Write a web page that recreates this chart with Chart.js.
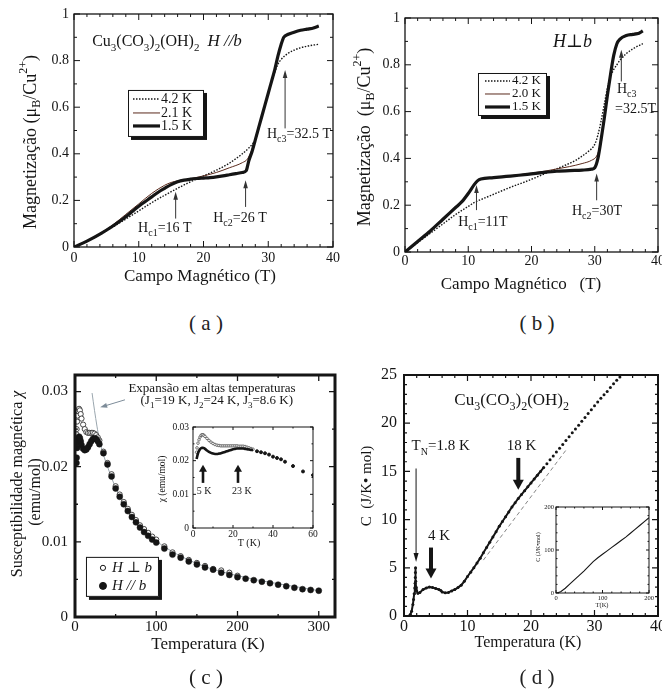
<!DOCTYPE html>
<html>
<head>
<meta charset="utf-8">
<script src="https://cdn.jsdelivr.net/npm/chart.js@4.4.1/dist/chart.umd.min.js"></script>
<style>
  body { margin: 0; background: #fff; width: 662px; height: 693px; position: relative; overflow: hidden; }
  canvas { position: absolute; }
  .lbl { position: absolute; transform: translate(-50%, -50%); font: 21px "Liberation Serif", serif; color: #222; white-space: pre; }
</style>
</head>
<body>
<canvas id="ca" width="340" height="300" style="left:0;top:0"></canvas>
<canvas id="cb" width="322" height="300" style="left:340px;top:0"></canvas>
<canvas id="cc" width="340" height="330" style="left:0;top:340px"></canvas>
<canvas id="cci" width="170" height="135" style="left:150px;top:418px"></canvas>
<canvas id="cd" width="322" height="330" style="left:340px;top:340px"></canvas>
<canvas id="cdi" width="130" height="113" style="left:530px;top:500px"></canvas>
<div class="lbl" style="left:206px;top:323px">( a )</div>
<div class="lbl" style="left:537px;top:323px">( b )</div>
<div class="lbl" style="left:206px;top:677px">( c )</div>
<div class="lbl" style="left:537px;top:677px">( d )</div>
<script>
// ---- (a) magnetização, H // b ----
const aH15 = [0, 2, 4, 6, 8, 10, 12, 13, 14, 15, 16, 17, 18, 19, 20, 21, 22, 23, 24, 25, 26, 26.6, 27, 27.5, 28, 28.5, 29, 29.5, 30, 30.5, 31, 31.5, 32, 32.4, 33, 34, 35, 36, 37, 37.8];
const aM15 = [0, 0.025, 0.055, 0.09, 0.13, 0.175, 0.215, 0.235, 0.252, 0.268, 0.28, 0.287, 0.291, 0.294, 0.296, 0.298, 0.301, 0.305, 0.31, 0.315, 0.32, 0.328, 0.37, 0.41, 0.46, 0.51, 0.56, 0.61, 0.66, 0.71, 0.76, 0.82, 0.87, 0.9, 0.912, 0.922, 0.93, 0.935, 0.94, 0.948];
const aH21 = [0, 2, 4, 6, 8, 10, 12, 14, 15, 16, 18, 20, 22, 24, 26, 26.8, 27.5, 28, 28.5, 29, 29.5, 30, 30.5, 31, 31.5, 32, 32.4, 33, 35, 37.8];
const aM21 = [0, 0.025, 0.057, 0.095, 0.14, 0.185, 0.23, 0.265, 0.277, 0.284, 0.293, 0.305, 0.32, 0.34, 0.362, 0.378, 0.42, 0.46, 0.51, 0.56, 0.61, 0.66, 0.71, 0.765, 0.825, 0.875, 0.9, 0.912, 0.93, 0.948];
const aH42 = [0, 2, 4, 6, 8, 10, 12, 14, 16, 18, 20, 22, 24, 26, 27, 27.5, 28, 29, 30, 31, 31.5, 32, 33, 34, 35, 36, 37.8];
const aM42 = [0, 0.024, 0.053, 0.086, 0.12, 0.155, 0.19, 0.222, 0.252, 0.28, 0.305, 0.33, 0.36, 0.4, 0.425, 0.44, 0.46, 0.56, 0.66, 0.75, 0.785, 0.805, 0.83, 0.845, 0.855, 0.862, 0.87];

// ---- (b) magnetização, H perpendicular b ----
const bH15 = [0, 2, 4, 6, 8, 9, 10, 11, 11.5, 12, 14, 16, 18, 20, 22, 24, 26, 28, 29.5, 30, 30.5, 31, 31.5, 32, 32.5, 33, 33.5, 34, 35, 36, 37, 37.6];
const bM15 = [0, 0.045, 0.09, 0.14, 0.19, 0.215, 0.25, 0.29, 0.305, 0.312, 0.318, 0.323, 0.328, 0.334, 0.34, 0.345, 0.348, 0.35, 0.354, 0.36, 0.4, 0.48, 0.57, 0.67, 0.76, 0.84, 0.89, 0.91, 0.925, 0.93, 0.935, 0.945];
const bH20 = [0, 2, 4, 6, 8, 10, 11, 12, 14, 16, 18, 20, 22, 24, 26, 28, 29.5, 30.3, 30.7, 31, 31.5, 32, 32.5, 33, 33.5, 34, 35, 37.6];
const bM20 = [0, 0.045, 0.09, 0.14, 0.19, 0.25, 0.292, 0.31, 0.318, 0.324, 0.33, 0.337, 0.345, 0.355, 0.365, 0.378, 0.392, 0.41, 0.44, 0.48, 0.57, 0.67, 0.76, 0.84, 0.89, 0.91, 0.925, 0.942];
const bH42 = [0, 2, 4, 6, 8, 10, 11, 13, 15, 17, 19, 21, 23, 25, 27, 28, 29, 30, 30.5, 31, 31.5, 32, 32.5, 33, 33.5, 34, 35, 36, 37.6];
const bM42 = [0, 0.04, 0.08, 0.12, 0.16, 0.195, 0.212, 0.235, 0.258, 0.28, 0.3, 0.322, 0.345, 0.367, 0.392, 0.41, 0.43, 0.46, 0.5, 0.56, 0.63, 0.7, 0.75, 0.78, 0.8, 0.82, 0.848, 0.868, 0.89];

// ---- (c) susceptibilidade ----
const cTo = [1.8, 2, 2.5, 3, 4, 5, 6, 7, 8, 10, 12, 14, 16, 18, 20, 22, 24, 26, 28, 30, 35, 40, 45, 50, 55, 60, 65, 70, 75, 80, 85, 90, 95, 100, 110, 120, 130, 140, 150, 160, 170, 180, 190, 200];
const cOpen = [0.0243, 0.025, 0.026, 0.0268, 0.0274, 0.0277, 0.0275, 0.027, 0.0264, 0.0256, 0.025, 0.0246, 0.0245, 0.0245, 0.0245, 0.0245, 0.0244, 0.0242, 0.0239, 0.0235, 0.022, 0.0205, 0.019, 0.0174, 0.0163, 0.0153, 0.0144, 0.0136, 0.0129, 0.0122, 0.0117, 0.0112, 0.0107, 0.0103, 0.0094, 0.0086, 0.0081, 0.0076, 0.0072, 0.0068, 0.0064, 0.0062, 0.0059, 0.0055];
const cTf = [1.8, 2, 2.5, 3, 4, 5, 6, 7, 8, 10, 12, 14, 16, 18, 20, 22, 24, 26, 28, 30, 35, 40, 45, 50, 55, 60, 65, 70, 75, 80, 85, 90, 95, 100, 110, 120, 130, 140, 150, 160, 170, 180, 190, 200, 210, 220, 230, 240, 250, 260, 270, 280, 290, 300];
const cFill = [0.0205, 0.0212, 0.0225, 0.0232, 0.0238, 0.024, 0.0238, 0.0234, 0.0229, 0.0224, 0.0222, 0.0223, 0.0226, 0.023, 0.0234, 0.0237, 0.0238, 0.0237, 0.0234, 0.023, 0.0218, 0.0203, 0.0187, 0.0171, 0.016, 0.015, 0.0141, 0.0133, 0.0126, 0.0119, 0.0113, 0.0108, 0.0103, 0.0099, 0.0091, 0.0083, 0.0079, 0.0074, 0.007, 0.0066, 0.0063, 0.0059, 0.0056, 0.0053, 0.0051, 0.0049, 0.0047, 0.0045, 0.0043, 0.0041, 0.0039, 0.0037, 0.0036, 0.0035];
const cFitT = [21, 24, 27, 30, 35, 40, 50, 60, 80, 100, 150, 200, 300];
const cFit = [0.0298, 0.0275, 0.0254, 0.0236, 0.0216, 0.02, 0.0172, 0.0152, 0.0121, 0.0101, 0.0071, 0.0055, 0.0035];
// inset (c)
const ciT = [1.8, 2, 2.5, 3, 3.5, 4, 4.5, 5, 5.5, 6, 7, 8, 9, 10, 11, 12, 13, 14, 15, 16, 17, 18, 19, 20, 21, 22, 23, 24, 25, 26, 27, 28, 29, 30];
const ciOpen = [0.0225, 0.0238, 0.0252, 0.0262, 0.027, 0.0275, 0.0277, 0.0277, 0.0275, 0.0272, 0.0266, 0.026, 0.0255, 0.0251, 0.0248, 0.0246, 0.0245, 0.0244, 0.0244, 0.0244, 0.0244, 0.0244, 0.0244, 0.0244, 0.0244, 0.0244, 0.0243, 0.0243, 0.0243, 0.0242, 0.024, 0.0238, 0.0236, 0.0234];
const ciFill = [0.0205, 0.021, 0.0222, 0.0229, 0.0234, 0.0237, 0.0238, 0.0238, 0.0237, 0.0235, 0.023, 0.0226, 0.0223, 0.0221, 0.022, 0.022, 0.0221, 0.0222, 0.0224, 0.0226, 0.0228, 0.023, 0.0232, 0.0234, 0.0235, 0.0236, 0.0236, 0.0236, 0.0236, 0.0235, 0.0234, 0.0233, 0.0232, 0.0231];
const ciTailT = [32, 34, 36, 38, 40, 42, 44, 46, 50, 55, 60];
const ciTail = [0.0228, 0.0225, 0.0222, 0.0218, 0.0212, 0.0208, 0.0204, 0.0197, 0.0184, 0.0168, 0.0157];

// ---- (d) calor específico ----
const dT = [0.8, 1.0, 1.2, 1.4, 1.5, 1.6, 1.7, 1.75, 1.78, 1.8, 1.82, 1.85, 1.9, 2.0, 2.2, 2.5, 3, 3.5, 4, 4.5, 5, 5.5, 5.8, 6, 6.5, 7, 7.5, 8, 8.5, 9, 9.5, 10, 10.5, 11, 11.5, 12, 12.5, 13, 13.5, 14, 14.5, 15, 15.5, 16, 16.5, 17, 17.5, 18, 18.5, 19, 19.5, 20, 20.5, 21, 21.5, 22, 22.5, 23, 23.5, 24, 24.5, 25, 25.5, 26, 26.5, 27, 27.5, 28, 28.5, 29, 29.5, 30, 30.5, 31, 31.5, 32, 32.5, 33, 33.5, 34, 34.5];
const dC = [0, 0.15, 0.5, 1.2, 1.7, 2.3, 2.9, 3.4, 4.0, 4.5, 5.0, 3.6, 3.0, 2.6, 2.35, 2.45, 2.75, 2.9, 3.0, 2.95, 2.85, 2.75, 2.65, 2.5, 2.4, 2.45, 2.6, 2.75, 2.95, 3.2, 3.6, 4.1, 4.55, 5.0, 5.5, 6.0, 6.55, 7.1, 7.65, 8.2, 8.75, 9.3, 9.8, 10.3, 10.8, 11.3, 11.75, 12.2, 12.6, 13.0, 13.4, 13.8, 14.2, 14.6, 15.0, 15.4, 15.8, 16.2, 16.6, 17.0, 17.4, 17.8, 18.2, 18.6, 19.0, 19.4, 19.8, 20.2, 20.6, 21.0, 21.4, 21.8, 22.2, 22.6, 22.95, 23.3, 23.7, 24.1, 24.45, 24.8, 25.2];
const dFitT = [12.5, 25.5];
const dFit = [5.8, 17.2];
// inset (d)
const diT = [0, 5, 10, 20, 30, 40, 50, 60, 70, 80, 90, 100, 110, 120, 130, 140, 150, 160, 170, 180, 190, 200];
const diC = [0, 1, 3, 11, 21, 31, 41, 51, 62, 73, 82, 90, 98, 106, 114, 122, 130, 139, 148, 157, 166, 175];

const INK = '#151515';
const FAM = '"Liberation Serif", "DejaVu Serif", serif';
Chart.defaults.font.family = FAM;
Chart.defaults.color = INK;

// estilos das curvas (também usados nas legendas)
const S42 = { borderWidth: 1.4, borderDash: [1.5, 1.5], borderColor: INK };
const S21 = { borderWidth: 1, borderColor: '#5a2a1c' };
const S15 = { borderWidth: 3.2, borderColor: INK };

const pts = (xs, ys) => xs.map((v, i) => ({ x: v, y: ys[i] }));

function curve(xs, ys, style) {
    return Object.assign({ data: pts(xs, ys), showLine: true, pointRadius: 0, fill: false, cubicInterpolationMode: 'monotone' }, style);
}

function axis(min, max, step, size, pad, thick) {
    return {
        type: 'linear', min, max,
        grid: { display: false, drawTicks: false },
        border: { display: false },
        ticks: {
            stepSize: step, includeBounds: false, font: { size }, padding: pad, color: INK,
            maxRotation: 0, autoSkip: false,
            callback: v => String(+v.toFixed(4))
        },
        afterFit(s) {
            if (s.isHorizontal()) s.height = thick; else s.width = thick;
            s.paddingLeft = s.paddingRight = s.paddingTop = s.paddingBottom = 0;
        }
    };
}

// texto com subscrito (_), sobrescrito (^) e itálico (~)
function rich(ctx, s, px, py, o) {
    const size = o.size, parts = [];
    let i = 0, buf = '';
    const flush = () => { if (buf) parts.push({ t: buf, m: '' }); buf = ''; };
    while (i < s.length) {
        const c = s[i];
        if (c === '_' || c === '^' || c === '~') {
            flush();
            let t;
            if (s[i + 1] === '{') { const j = s.indexOf('}', i); t = s.slice(i + 2, j); i = j + 1; }
            else { t = s[i + 1]; i += 2; }
            parts.push({ t, m: c });
        } else { buf += c; i++; }
    }
    flush();
    const font = p => ((o.italic || p.m === '~') ? 'italic ' : '') + ((p.m === '_' || p.m === '^') ? Math.round(size * 0.68) : size) + 'px ' + FAM;
    let w = 0;
    parts.forEach(p => { ctx.font = font(p); p.w = ctx.measureText(p.t).width; w += p.w; });
    ctx.save();
    ctx.translate(px, py);
    if (o.rot) ctx.rotate(o.rot);
    ctx.fillStyle = o.color || INK;
    ctx.textAlign = 'left';
    ctx.textBaseline = o.base || 'alphabetic';
    let cx = o.align === 'center' ? -w / 2 : o.align === 'right' ? -w : 0;
    parts.forEach(p => {
        ctx.font = font(p);
        const dy = p.m === '_' ? size * 0.3 : p.m === '^' ? -size * 0.42 : 0;
        ctx.fillText(p.t, cx, dy);
        cx += p.w;
    });
    ctx.restore();
}

function arrow(ctx, x1, y1, x2, y2, o) {
    const ang = Math.atan2(y2 - y1, x2 - x1), hl = o.hl || 8, hw = o.hw || 2.5;
    ctx.save();
    ctx.strokeStyle = ctx.fillStyle = o.color || INK;
    ctx.lineWidth = o.w || 1;
    ctx.beginPath();
    ctx.moveTo(x1, y1);
    ctx.lineTo(x2 - Math.cos(ang) * hl * 0.8, y2 - Math.sin(ang) * hl * 0.8);
    ctx.stroke();
    ctx.translate(x2, y2);
    ctx.rotate(ang);
    ctx.beginPath();
    ctx.moveTo(0, 0); ctx.lineTo(-hl, -hw); ctx.lineTo(-hl, hw);
    ctx.closePath();
    ctx.fill();
    ctx.restore();
}

function legendBox(ctx, X, Y, o) {
    ctx.save();
    ctx.fillStyle = INK; ctx.fillRect(X + 3, Y + 3, o.w, o.h);
    ctx.fillStyle = '#fff'; ctx.fillRect(X, Y, o.w, o.h);
    ctx.strokeStyle = INK; ctx.lineWidth = 1; ctx.strokeRect(X + 0.5, Y + 0.5, o.w - 1, o.h - 1);
    o.rows.forEach(r => {
        const ry = Y + r.dy;
        if (r.r) {
            ctx.beginPath(); ctx.arc(X + o.mx, ry, r.r, 0, Math.PI * 2);
            ctx.fillStyle = r.fill; ctx.fill();
            ctx.lineWidth = 1; ctx.strokeStyle = INK; ctx.stroke();
        } else {
            ctx.beginPath(); ctx.setLineDash(r.style.borderDash || []);
            ctx.lineWidth = r.style.borderWidth; ctx.strokeStyle = r.style.borderColor;
            ctx.moveTo(X + o.l1, ry); ctx.lineTo(X + o.l2, ry); ctx.stroke(); ctx.setLineDash([]);
        }
        rich(ctx, r.label, X + o.tx, ry, { size: o.size, base: 'middle', italic: r.italic });
    });
    ctx.restore();
}

function marks(min, max, major, minor) {
    const out = [], n = Math.round((max - min) / minor);
    for (let i = 0; i <= n; i++) {
        const v = min + i * minor;
        if (v > max + 1e-9) break;
        const r = v / major;
        out.push([v, Math.abs(r - Math.round(r)) < 1e-6]);
    }
    return out;
}

// moldura, marcas internas e anotações
function decor(cfg) {
    return {
        id: 'decor',
        afterDatasetsDraw(chart) {
            const { ctx, chartArea: a, scales: { x, y } } = chart;
            ctx.save();
            ctx.strokeStyle = INK;
            ctx.lineWidth = cfg.tw || 1;
            ctx.beginPath();
            marks(x.min, x.max, cfg.xt[0], cfg.xt[1]).forEach(([v, big]) => {
                const p = x.getPixelForValue(v), L = big ? cfg.tl : cfg.tl / 2;
                ctx.moveTo(p, a.bottom); ctx.lineTo(p, a.bottom - L);
                ctx.moveTo(p, a.top); ctx.lineTo(p, a.top + L);
            });
            marks(y.min, y.max, cfg.yt[0], cfg.yt[1]).forEach(([v, big]) => {
                const p = y.getPixelForValue(v), L = big ? cfg.tl : cfg.tl / 2;
                ctx.moveTo(a.left, p); ctx.lineTo(a.left + L, p);
                ctx.moveTo(a.right, p); ctx.lineTo(a.right - L, p);
            });
            ctx.stroke();
            ctx.lineWidth = cfg.frame;
            ctx.strokeRect(a.left, a.top, a.right - a.left, a.bottom - a.top);
            const X = v => x.getPixelForValue(v), Y = v => y.getPixelForValue(v);
            (cfg.items || []).forEach(it => {
                if (it.t === 'ptext') rich(ctx, it.s, it.px, it.py, { size: it.size, align: 'center', base: 'middle', rot: it.rot, italic: it.italic });
                else if (it.t === 'text') rich(ctx, it.s, X(it.x), Y(it.y), it);
                else if (it.t === 'arrow') arrow(ctx, X(it.x1), Y(it.y1), X(it.x2), Y(it.y2), it);
                else if (it.t === 'legend') legendBox(ctx, X(it.x), Y(it.y), it);
            });
            ctx.restore();
        }
    };
}

function panel(id, datasets, pad, xAxis, yAxis, deco) {
    return new Chart(document.getElementById(id), {
        type: 'scatter',
        data: { datasets },
        options: {
            responsive: false, animation: false, events: [],
            layout: { padding: pad },
            plugins: { legend: { display: false }, tooltip: { enabled: false } },
            scales: { x: xAxis, y: yAxis }
        },
        plugins: [decor(deco)]
    });
}

const UP = -Math.PI / 2;
const thin = { w: 1, hl: 8, hw: 2.3, color: '#333' };

// (a)
panel('ca',
    [curve(aH15, aM15, S15), curve(aH21, aM21, S21), curve(aH42, aM42, S42)],
    { left: 0, top: 14, right: 7, bottom: 0 },
    axis(0, 40, 10, 14, 3, 53), axis(0, 1, 0.2, 14, 5, 74),
    { frame: 1.3, tl: 6, xt: [10, 2], yt: [0.2, 0.1], items: [
        { t: 'ptext', px: 200, py: 277, s: 'Campo Magnético (T)', size: 17 },
        { t: 'ptext', px: 31, py: 142, s: 'Magnetização (μ_B/Cu^{2+})', size: 18, rot: UP },
        { t: 'text', x: 2.8, y: 0.863, s: 'Cu_3(CO_3)_2(OH)_2', size: 16 },
        { t: 'text', x: 20.6, y: 0.863, s: 'H //b', size: 17, italic: true },
        Object.assign({ t: 'arrow', x1: 15.7, y1: 0.122, x2: 15.7, y2: 0.237 }, thin),
        { t: 'text', x: 9.9, y: 0.064, s: 'H_{c1}=16 T', size: 14 },
        Object.assign({ t: 'arrow', x1: 26.5, y1: 0.172, x2: 26.5, y2: 0.287 }, thin),
        { t: 'text', x: 21.5, y: 0.107, s: 'H_{c2}=26 T', size: 14 },
        Object.assign({ t: 'arrow', x1: 32.6, y1: 0.509, x2: 32.6, y2: 0.76 }, thin),
        { t: 'text', x: 29.8, y: 0.468, s: 'H_{c3}=32.5 T', size: 14 },
        { t: 'legend', x: 8.34, y: 0.674, w: 76, h: 47, l1: 5, l2: 32, tx: 33, size: 14, rows: [
            { dy: 9, style: S42, label: '4.2 K' },
            { dy: 23, style: S21, label: '2.1 K' },
            { dy: 36, style: S15, label: '1.5 K' }
        ] }
    ] });

// (b)
panel('cb',
    [curve(bH15, bM15, S15), curve(bH20, bM20, S21), curve(bH42, bM42, S42)],
    { left: 0, top: 18, right: 4, bottom: 0 },
    axis(0, 40, 10, 14, 1, 48), axis(0, 1, 0.2, 14, 5, 65),
    { frame: 1.3, tl: 6, xt: [10, 2], yt: [0.2, 0.1], items: [
        { t: 'ptext', px: 181, py: 285, s: 'Campo Magnético   (T)', size: 17 },
        { t: 'ptext', px: 25, py: 137, s: 'Magnetização  (μ_B/Cu^{2+})', size: 18, rot: UP },
        { t: 'text', x: 23.4, y: 0.876, s: 'H⊥b', size: 18, italic: true },
        Object.assign({ t: 'arrow', x1: 11.3, y1: 0.179, x2: 11.3, y2: 0.286 }, thin),
        { t: 'text', x: 8.4, y: 0.111, s: 'H_{c1}=11T', size: 14 },
        Object.assign({ t: 'arrow', x1: 30.3, y1: 0.221, x2: 30.3, y2: 0.336 }, thin),
        { t: 'text', x: 26.4, y: 0.158, s: 'H_{c2}=30T', size: 14 },
        Object.assign({ t: 'arrow', x1: 34.2, y1: 0.729, x2: 34.2, y2: 0.864 }, thin),
        { t: 'text', x: 33.5, y: 0.68, s: 'H_{c3}', size: 14 },
        { t: 'text', x: 33.2, y: 0.594, s: '=32.5T', size: 14 },
        { t: 'legend', x: 11.54, y: 0.765, w: 69, h: 43, l1: 7, l2: 32, tx: 34, size: 13, rows: [
            { dy: 8, style: S42, label: '4.2 K' },
            { dy: 21, style: S21, label: '2.0 K' },
            { dy: 34, style: S15, label: '1.5 K' }
        ] }
    ] });

// (c)
panel('cc',
    [
        { data: pts(cTf, cFill), pointRadius: 3, pointBackgroundColor: INK, pointBorderColor: INK, pointBorderWidth: 0.5 },
        { data: pts(cTo, cOpen), pointRadius: 2.6, pointBackgroundColor: '#fff', pointBorderColor: '#333', pointBorderWidth: 0.9 },
        { data: pts(cFitT, cFit), showLine: true, pointRadius: 0, borderColor: '#9aa6ae', borderWidth: 1, cubicInterpolationMode: 'monotone' }
    ],
    { left: 0, top: 35, right: 5, bottom: 0 },
    axis(0, 320, 100, 15, 1, 53), axis(0, 0.0322, 0.01, 15, 7, 75),
    { frame: 3, tw: 1.3, tl: 6, xt: [100, 50], yt: [0.01, 0.005], items: [
        { t: 'ptext', px: 208, py: 305, s: 'Temperatura (K)', size: 17 },
        { t: 'ptext', px: 18, py: 144, s: 'Susceptibilidade magnética ~χ', size: 16, rot: UP },
        { t: 'ptext', px: 36, py: 152, s: '(emu/mol)', size: 16, rot: UP },
        { t: 'text', x: 168.6, y: 0.0300, s: 'Expansão em altas temperaturas', size: 13, align: 'center' },
        { t: 'text', x: 174.5, y: 0.0283, s: '(J_1=19 K, J_2=24 K, J_3=8.6 K)', size: 13, align: 'center' },
        { t: 'arrow', x1: 61.5, y1: 0.0289, x2: 31, y2: 0.0279, w: 1, hl: 7, hw: 2.5, color: '#7d8c99' },
        { t: 'legend', x: 13.5, y: 0.008, w: 73, h: 40, mx: 17, tx: 26, size: 15, rows: [
            { dy: 11, r: 2.6, fill: '#fff', label: 'H ⊥ b', italic: true },
            { dy: 29, r: 3.5, fill: INK, label: 'H // b', italic: true }
        ] }
    ] });

// inset (c)
panel('cci',
    [
        { data: pts(ciT, ciFill), showLine: true, pointRadius: 0, borderColor: INK, borderWidth: 2.6, cubicInterpolationMode: 'monotone' },
        { data: pts(ciT, ciOpen), pointRadius: 1.3, pointBackgroundColor: '#fff', pointBorderColor: '#555', pointBorderWidth: 0.8 },
        { data: pts(ciTailT, ciTail), pointRadius: 1.5, pointBackgroundColor: INK, pointBorderColor: INK }
    ],
    { left: 0, top: 9, right: 7, bottom: 0 },
    axis(0, 60, 20, 9.5, 1, 25), axis(0, 0.03, 0.01, 9.5, 4, 43),
    { frame: 1, tl: 3, xt: [20, 10], yt: [0.01, 0.005], items: [
        { t: 'ptext', px: 99, py: 125, s: 'T (K)', size: 10 },
        { t: 'ptext', px: 12, py: 61, s: 'χ (emu/mol)', size: 9.5, rot: UP },
        { t: 'arrow', x1: 5, y1: 0.0134, x2: 5, y2: 0.0188, w: 2.6, hl: 7, hw: 4 },
        { t: 'arrow', x1: 22.5, y1: 0.0134, x2: 22.5, y2: 0.0188, w: 2.6, hl: 7, hw: 4 },
        { t: 'text', x: 5.5, y: 0.0102, s: '5 K', size: 10, align: 'center' },
        { t: 'text', x: 24.4, y: 0.0102, s: '23 K', size: 10, align: 'center' }
    ] });

// (d)
panel('cd',
    [
        { data: pts(dT, dC), showLine: true, pointRadius: 1.5, pointBackgroundColor: INK, pointBorderWidth: 0, borderWidth: 2,
          segment: { borderColor: c => c.p0.parsed.x < 22 ? INK : 'rgba(0,0,0,0)' } },
        { data: pts(dFitT, dFit), showLine: true, pointRadius: 0, borderColor: '#666', borderWidth: 0.8, borderDash: [4, 3] }
    ],
    { left: 0, top: 35, right: 4, bottom: 0 },
    axis(0, 40, 10, 16, 1, 54), axis(0, 25, 5, 16, 7, 64),
    { frame: 2, tw: 1.2, tl: 6, xt: [10, 2], yt: [5, 1], items: [
        { t: 'ptext', px: 188, py: 303, s: 'Temperatura (K)', size: 16 },
        { t: 'ptext', px: 27, py: 146, s: 'C  (J/K• mol)', size: 15, rot: UP },
        { t: 'text', x: 16.96, y: 21.9, s: 'Cu_3(CO_3)_2(OH)_2', size: 17, align: 'center' },
        { t: 'text', x: 1.2, y: 17.2, s: 'T_N=1.8 K', size: 15 },
        { t: 'text', x: 18.5, y: 17.2, s: '18 K', size: 15, align: 'center' },
        { t: 'text', x: 5.5, y: 7.9, s: '4 K', size: 15, align: 'center' },
        { t: 'arrow', x1: 1.9, y1: 15.3, x2: 1.9, y2: 5.6, w: 1, hl: 9, hw: 2.5 },
        { t: 'arrow', x1: 4.25, y1: 7.1, x2: 4.25, y2: 3.9, w: 4, hl: 10, hw: 5.5 },
        { t: 'arrow', x1: 18, y1: 16.4, x2: 18, y2: 13.1, w: 4, hl: 10, hw: 5.5 }
    ] });

// inset (d)
panel('cdi',
    [{ data: pts(diT, diC), showLine: true, pointRadius: 0, borderColor: INK, borderWidth: 1.1 }],
    { left: 0, top: 7, right: 11, bottom: 0 },
    axis(0, 200, 100, 6.5, 1, 20), axis(0, 200, 100, 6.5, 2, 26),
    { frame: 1, tl: 3, xt: [100, 20], yt: [100, 20], items: [
        { t: 'ptext', px: 72, py: 105, s: 'T(K)', size: 6.5 },
        { t: 'ptext', px: 8, py: 47, s: 'C (J/K•mol)', size: 6, rot: UP }
    ] });
</script>
</body>
</html>
